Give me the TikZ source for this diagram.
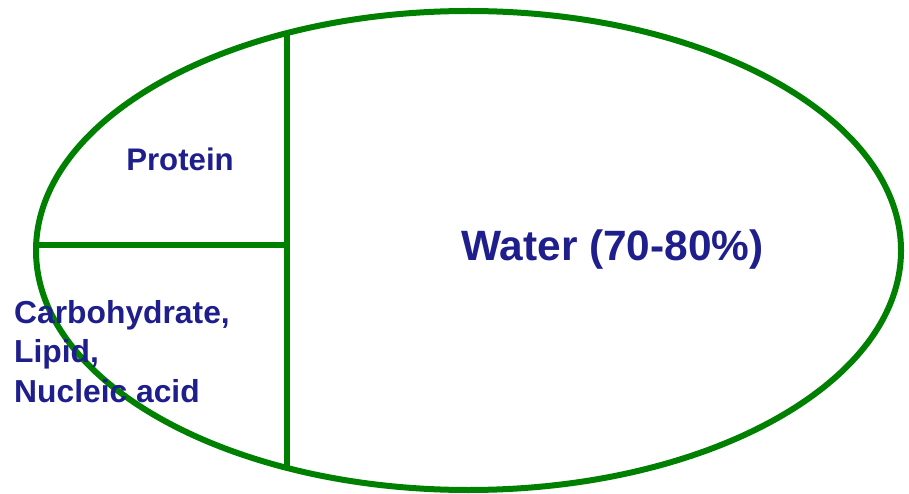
\documentclass[tikz,border=0pt]{standalone}
\usepackage{fontspec}
\setmainfont{Liberation Sans}
\usetikzlibrary{shapes.geometric}
\definecolor{cellgreen}{RGB}{0,128,0}
\definecolor{labelblue}{RGB}{30,30,140}
\begin{document}
\begin{tikzpicture}[x=1pt,y=1pt,
  wall/.style={draw=cellgreen,line width=6pt},
  lbl/.style={text=labelblue,font=\bfseries,inner sep=0pt}]
\useasboundingbox (0,0) rectangle (909,493);
% cell outline: centre (468.5,242.5), radii 432.5 x 239.5
\node[wall,ellipse,minimum width=865pt,minimum height=479pt,inner sep=0pt] (cell) at (468.5,242.5) {};
\coordinate (vtop) at (287,460);
\coordinate (vbot) at (287,25.1);
\coordinate (hleft) at (36.1,248);
\coordinate (hright) at (287,248);
\draw[wall] (vtop) -- (vbot);
\draw[wall] (hleft) -- (hright);
\node[lbl,anchor=base,font=\bfseries\fontsize{31.2}{37}\selectfont] (protein) at (180,322) {Protein};
\node[lbl,anchor=base,font=\bfseries\fontsize{42.4}{50}\selectfont] (water) at (612.5,233) {Water (70-80\%)};
\node[lbl,anchor=base west,align=left,font=\bfseries\fontsize{31.8}{39.5}\selectfont] (others) at (14,91) {Carbohydrate,\\Lipid,\\Nucleic acid};
\end{tikzpicture}
\end{document}
